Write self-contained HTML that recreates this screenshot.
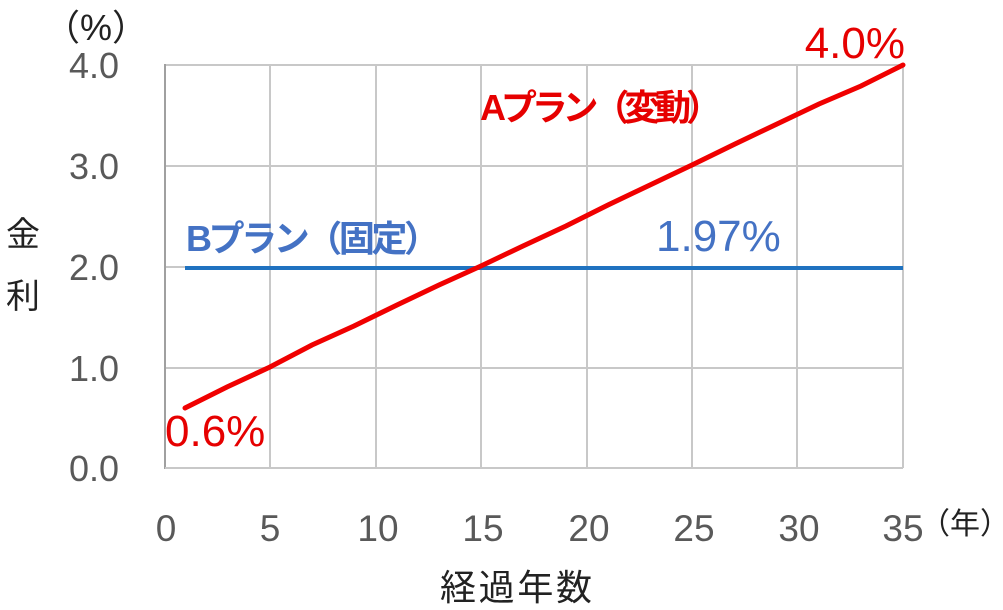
<!DOCTYPE html>
<html><head><meta charset="utf-8"><style>
html,body{margin:0;padding:0;background:#fff;width:1003px;height:610px;overflow:hidden}
text{font-family:"Liberation Sans","Noto Sans CJK JP",sans-serif}
</style></head><body>
<svg width="1003" height="610" viewBox="0 0 1003 610" xmlns="http://www.w3.org/2000/svg">
<g stroke="#c8c8c8" stroke-width="2">
<line x1="270" y1="65" x2="270" y2="468"/><line x1="376" y1="65" x2="376" y2="468"/>
<line x1="481" y1="65" x2="481" y2="468"/><line x1="587" y1="65" x2="587" y2="468"/>
<line x1="692" y1="65" x2="692" y2="468"/><line x1="797" y1="65" x2="797" y2="468"/>
<line x1="903" y1="65" x2="903" y2="468"/>
<line x1="165" y1="65" x2="903" y2="65"/><line x1="165" y1="166" x2="903" y2="166"/>
<line x1="165" y1="267" x2="903" y2="267"/><line x1="165" y1="368" x2="903" y2="368"/>
</g>
<line x1="165" y1="64" x2="165" y2="469" stroke="#a0a0a0" stroke-width="2"/>
<line x1="165" y1="468" x2="903" y2="468" stroke="#c8c8c8" stroke-width="2"/>
<line x1="185" y1="268" x2="903" y2="268" stroke="#1f72c0" stroke-width="4"/>
<polyline fill="none" stroke="#f00000" stroke-width="5" stroke-linecap="round" points="185,408 227,387 270,367 312,345 354,326 397,305 439,285 481,266 523,246 566,226 608,205 650,185 692,165 735,144 777,124 819,104 861,86 903,65"/>
<g fill="#595959" font-size="36" text-anchor="end">
<text x="119" y="78">4.0</text><text x="119" y="179">3.0</text><text x="119" y="280">2.0</text>
<text x="119" y="381">1.0</text><text x="119" y="481">0.0</text>
</g>
<g fill="#595959" font-size="37" text-anchor="middle">
<text x="166" y="541">0</text><text x="270" y="541">5</text><text x="378" y="541">10</text>
<text x="483" y="541">15</text><text x="589" y="541">20</text><text x="694" y="541">25</text>
<text x="799" y="541">30</text><text x="903" y="541">35</text>
</g>
<text x="920" y="534" font-size="30" fill="#222">（年）</text>
<text x="44" y="40" font-size="36" fill="#222">（%）</text>
<text x="6" y="246" font-size="34" fill="#222">金</text>
<text x="6" y="308" font-size="34" fill="#222">利</text>
<text x="440" y="600" font-size="36" fill="#222" textLength="152">経過年数</text>
<text x="480" y="120" font-size="36" fill="#e60000" font-weight="bold" textLength="242">Aプラン（変動）</text>
<text x="905" y="58" font-size="44" fill="#e60000" text-anchor="end">4.0%</text>
<text x="165" y="446" font-size="44" fill="#e60000">0.6%</text>
<text x="186" y="251" font-size="36" fill="#4472c4" font-weight="bold" textLength="254">Bプラン（固定）</text>
<text x="656" y="251" font-size="44" fill="#4472c4">1.97%</text>
</svg>
</body></html>
